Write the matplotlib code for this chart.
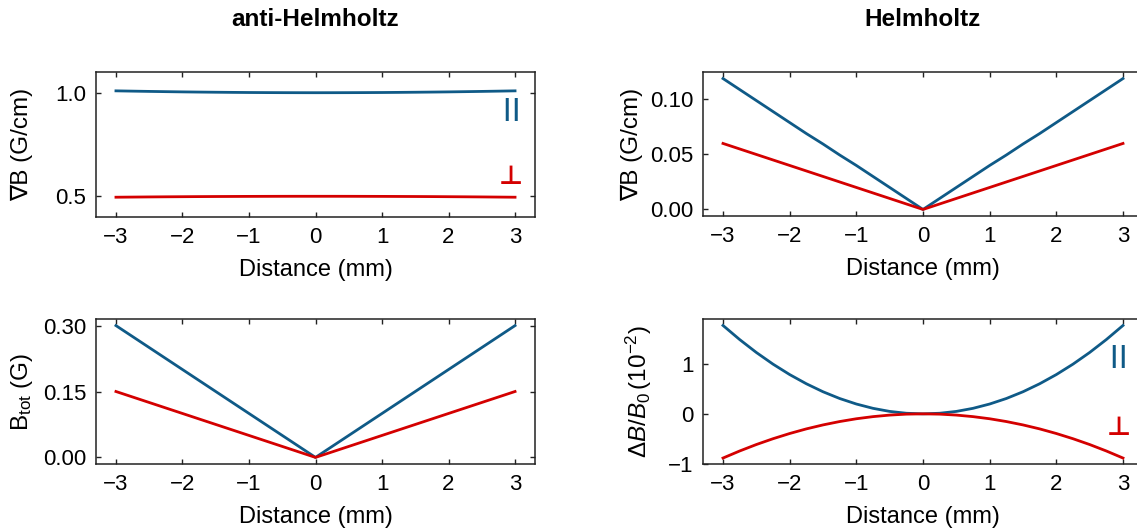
#!/usr/bin/env python3
import matplotlib
matplotlib.use('Agg')
import matplotlib.pyplot as plt

plt.rcParams['font.family'] = ['Liberation Sans', 'DejaVu Sans']
plt.rcParams['mathtext.fontset'] = 'custom'
plt.rcParams['mathtext.rm'] = 'Liberation Sans'
plt.rcParams['mathtext.it'] = 'Liberation Sans:italic'
plt.rcParams['mathtext.bf'] = 'Liberation Sans:bold'
plt.rcParams['axes.linewidth'] = 1.1
plt.rcParams['axes.edgecolor'] = '#222222'

BLUE = '#0f5a87'
RED = '#d40000'

# distance along the axis (mm)
dist = [-3.0, -2.75, -2.5, -2.25, -2.0, -1.75, -1.5, -1.25, -1.0, -0.75, -0.5, -0.25, 0.0,
        0.25, 0.5, 0.75, 1.0, 1.25, 1.5, 1.75, 2.0, 2.25, 2.5, 2.75, 3.0]

# anti-Helmholtz: gradient (G/cm)
ah_grad_par = [1.009, 1.0076, 1.0063, 1.0051, 1.004, 1.0031, 1.0023, 1.0016, 1.001, 1.0006, 1.0003, 1.0001, 1.000,
               1.0001, 1.0003, 1.0006, 1.001, 1.0016, 1.0023, 1.0031, 1.004, 1.0051, 1.0063, 1.0076, 1.009]
ah_grad_perp = [0.4955, 0.4962, 0.4969, 0.4975, 0.498, 0.4985, 0.4989, 0.4992, 0.4995, 0.4997, 0.4999, 0.5, 0.5,
                0.5, 0.4999, 0.4997, 0.4995, 0.4992, 0.4989, 0.4985, 0.498, 0.4975, 0.4969, 0.4962, 0.4955]
# anti-Helmholtz: total field (G)
ah_btot_par = [0.30, 0.275, 0.25, 0.225, 0.20, 0.175, 0.15, 0.125, 0.10, 0.075, 0.05, 0.025, 0.0,
               0.025, 0.05, 0.075, 0.10, 0.125, 0.15, 0.175, 0.20, 0.225, 0.25, 0.275, 0.30]
ah_btot_perp = [0.15, 0.1375, 0.125, 0.1125, 0.10, 0.0875, 0.075, 0.0625, 0.05, 0.0375, 0.025, 0.0125, 0.0,
                0.0125, 0.025, 0.0375, 0.05, 0.0625, 0.075, 0.0875, 0.10, 0.1125, 0.125, 0.1375, 0.15]

# Helmholtz: gradient (G/cm)
h_grad_par = [0.119, 0.109, 0.099, 0.089, 0.079, 0.069, 0.0595, 0.0495, 0.040, 0.030, 0.020, 0.010, 0.0,
              0.010, 0.020, 0.030, 0.040, 0.0495, 0.0595, 0.069, 0.079, 0.089, 0.099, 0.109, 0.119]
h_grad_perp = [0.060, 0.055, 0.050, 0.045, 0.040, 0.035, 0.030, 0.025, 0.020, 0.015, 0.010, 0.005, 0.0,
               0.005, 0.010, 0.015, 0.020, 0.025, 0.030, 0.035, 0.040, 0.045, 0.050, 0.055, 0.060]
# Helmholtz: relative deviation dB/B0 (1e-2)
h_dev_par = [1.78, 1.496, 1.236, 1.001, 0.791, 0.606, 0.445, 0.309, 0.198, 0.111, 0.049, 0.012, 0.0,
             0.012, 0.049, 0.111, 0.198, 0.309, 0.445, 0.606, 0.791, 1.001, 1.236, 1.496, 1.78]
h_dev_perp = [-0.89, -0.748, -0.618, -0.501, -0.396, -0.303, -0.223, -0.155, -0.099, -0.056, -0.025, -0.006, 0.0,
              -0.006, -0.025, -0.056, -0.099, -0.155, -0.223, -0.303, -0.396, -0.501, -0.618, -0.748, -0.89]

xticks = [-3, -2, -1, 0, 1, 2, 3]

W, H = 1137, 528
fig = plt.figure(figsize=(W / 100, H / 100), dpi=100)


def box(x0, y0, x1, y1):
    return [x0 / W, 1 - y1 / H, (x1 - x0) / W, (y1 - y0) / H]


ax_tl = fig.add_axes(box(96, 72, 535, 217))
ax_bl = fig.add_axes(box(96, 319, 535, 464))
ax_tr = fig.add_axes(box(703, 72, 1143, 216))
ax_br = fig.add_axes(box(703, 319, 1143, 464))


def style(ax, ylab, yt, ylabs, labx, right=True):
    ax.set_xlim(-3.3, 3.3)
    ax.set_xticks(xticks)
    ax.set_yticks(yt)
    ax.set_yticklabels(ylabs)
    ax.tick_params(direction='in', top=True, right=right, length=3.6, width=1.0,
                   labelsize=16, pad=7, color='#222222')
    ax.set_xlabel('Distance (mm)', fontsize=17, labelpad=8)
    ax.set_ylabel(ylab, fontsize=17.5)
    ax.yaxis.set_label_coords(labx, 0.5)


lw = 2.0
ax_tl.plot(dist, ah_grad_par, color=BLUE, lw=lw)
ax_tl.plot(dist, ah_grad_perp, color=RED, lw=lw)
ax_tl.set_ylim(0.4, 1.1)
style(ax_tl, '∇B (G/cm)', [0.5, 1.0], ['0.5', '1.0'], -0.143)

ax_bl.plot(dist, ah_btot_par, color=BLUE, lw=lw)
ax_bl.plot(dist, ah_btot_perp, color=RED, lw=lw)
style(ax_bl, r'B$_{\rm tot}$ (G)', [0.0, 0.15, 0.30], ['0.00', '0.15', '0.30'], -0.139)

ax_tr.plot(dist, h_grad_par, color=BLUE, lw=lw)
ax_tr.plot(dist, h_grad_perp, color=RED, lw=lw)
style(ax_tr, '∇B (G/cm)', [0.0, 0.05, 0.10], ['0.00', '0.05', '0.10'], -0.136, right=False)

ax_br.plot(dist, h_dev_par, color=BLUE, lw=lw)
ax_br.plot(dist, h_dev_perp, color=RED, lw=lw)
ax_br.set_ylim(-1.01, 1.91)
style(ax_br, r'$\Delta B/B_0\,$(10$^{-2}$)', [-1, 0, 1], ['\u22121', '0', '1'], -0.112, right=False)

# parallel / perpendicular markers
for ax, ypar, yperp in [(ax_tl, 0.738, 0.276), (ax_br, 0.738, 0.248)]:
    ax.text(0.945, ypar, r'$\mathbf{|\,|}$', transform=ax.transAxes, color=BLUE,
            fontsize=17, ha='center', va='center')
    ax.text(0.945, yperp, '\u22a5', transform=ax.transAxes, color=RED,
            fontsize=19, ha='center', va='center', family='DejaVu Sans',
            fontweight='bold')

fig.text(315 / W, 1 - 20 / H, 'anti-Helmholtz', fontsize=17.5, fontweight='bold',
         ha='center', va='center')
fig.text(923 / W, 1 - 20 / H, 'Helmholtz', fontsize=17.5, fontweight='bold',
         ha='center', va='center')

fig.savefig('out.png', dpi=100)
